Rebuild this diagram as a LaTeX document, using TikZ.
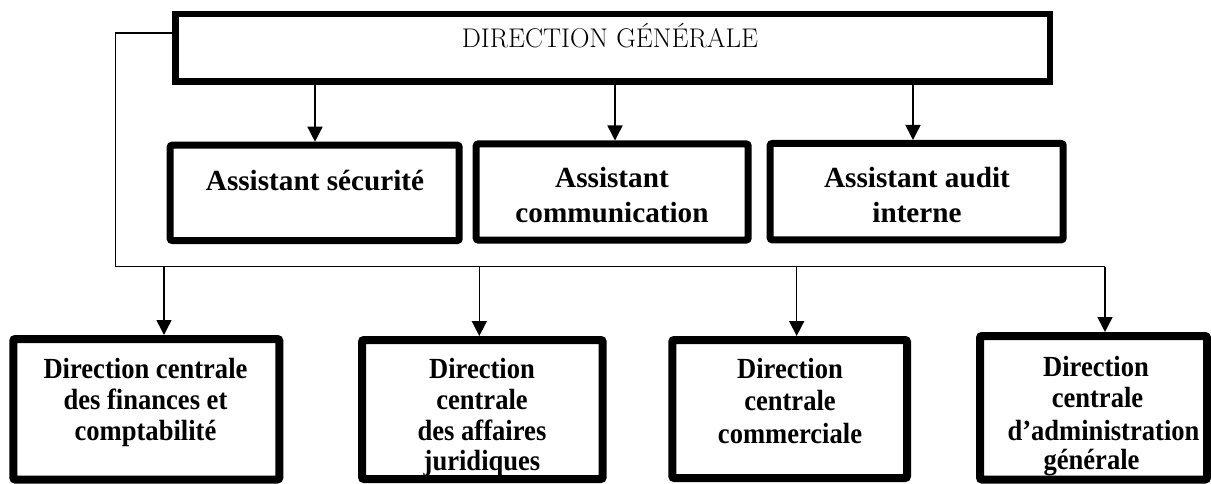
\documentclass[tikz,border=0pt]{standalone}
\usepackage{fontspec}
\usetikzlibrary{arrows.meta}
\newfontfamily\tnr{Liberation Serif}
\newfontfamily\tnrc[FakeStretch=0.91]{Liberation Serif}
\begin{document}
\begin{tikzpicture}[x=1pt,y=-1pt,
  mainbox/.style={draw=black,line width=6.5pt,inner sep=0pt},
  abox/.style={draw=black,line width=7pt,rounded corners=2pt,inner sep=0pt},
  dbox/.style={draw=black,line width=8pt,rounded corners=2pt,inner sep=0pt},
  conn/.style={draw=black,line width=1.5pt},
  arr/.style={conn,-{Triangle[length=15pt,width=15pt]}},
  ttxt/.style={inner sep=0pt,anchor=base,font=\fontsize{27}{32}\selectfont},
  atxt/.style={inner sep=0pt,anchor=base,font=\tnr\bfseries\fontsize{29.2}{35}\selectfont},
  dtxt/.style={inner sep=0pt,anchor=base,font=\tnrc\bfseries\fontsize{29.2}{31}\selectfont}]
\useasboundingbox (0,0) rectangle (1211,484);
% boxes
\node[mainbox,minimum width=874.5pt,minimum height=67.5pt] (dg) at (612.5,48) {};
\node[abox,minimum width=289pt,minimum height=95.3pt] (b1) at (314.7,192.85) {};
\node[abox,minimum width=272pt,minimum height=96pt] (b2) at (612.2,192) {};
\node[abox,minimum width=293pt,minimum height=96.3pt] (b3) at (916.7,191.65) {};
\node[dbox,minimum width=266pt,minimum height=140.5pt] (bA) at (146.3,409.25) {};
\node[dbox,minimum width=240.7pt,minimum height=139pt] (bB) at (482.35,409.5) {};
\node[dbox,minimum width=234.7pt,minimum height=138pt] (bC) at (789.65,409) {};
\node[dbox,minimum width=227pt,minimum height=143.5pt] (bD) at (1093.5,407.75) {};
% texts
\node[ttxt] (tdg) at (610,48) {DIRECTION GÉNÉRALE};
\node[atxt] (t1) at (315,190) {Assistant sécurité};
\node[atxt] (t2a) at (612,187.3) {Assistant};
\node[atxt] (t2b) at (612,222.7) {communication};
\node[atxt] (t3a) at (917,187.3) {Assistant audit};
\node[atxt] (t3b) at (917,222.7) {interne};
\node[dtxt] (tA1) at (145.5,378) {Direction centrale};
\node[dtxt] (tA2) at (145.5,409) {des finances et};
\node[dtxt] (tA3) at (145.5,440) {comptabilité};
\node[dtxt] (tB1) at (482,378) {Direction};
\node[dtxt] (tB2) at (482,409) {centrale};
\node[dtxt] (tB3) at (482,440) {des affaires};
\node[dtxt] (tB4) at (482,470) {juridiques};
\node[dtxt] (tC1) at (790,378) {Direction};
\node[dtxt] (tC2) at (790,410) {centrale};
\node[dtxt] (tC3) at (790,443) {commerciale};
\node[dtxt] (tD1) at (1096,376) {Direction};
\node[dtxt] (tD2) at (1097.5,407) {centrale};
\node[dtxt] (tD3) at (1103.5,440) {d’administration};
\node[dtxt] (tD4) at (1091.5,469) {générale};
% connector coordinates
\coordinate (x1) at (315,0);
\coordinate (x2) at (615,0);
\coordinate (x3) at (913,0);
\coordinate (lt) at (115.7,33);
\coordinate (lb) at (115.7,266.7);
\coordinate (dA) at (164,266.7);
\coordinate (dB) at (479.3,266.7);
\coordinate (dC) at (796.7,266.7);
\coordinate (dD) at (1105,266.7);
% arrows from the general direction
\draw[arr] (x1 |- dg.south) -- (x1 |- b1.north);
\draw[arr] (x2 |- dg.south) -- (x2 |- b2.north);
\draw[arr] (x3 |- dg.south) -- (x3 |- b3.north);
% bus to the central directions
\draw[conn] (lt -| dg.west) -- (lt) -- (lb) -- (dD);
\draw[arr] (dA) -- (dA |- bA.north);
\draw[arr] (dB) -- (dB |- bB.north);
\draw[arr] (dC) -- (dC |- bC.north);
\draw[arr] (dD) -- (dD |- bD.north);
\end{tikzpicture}
\end{document}
